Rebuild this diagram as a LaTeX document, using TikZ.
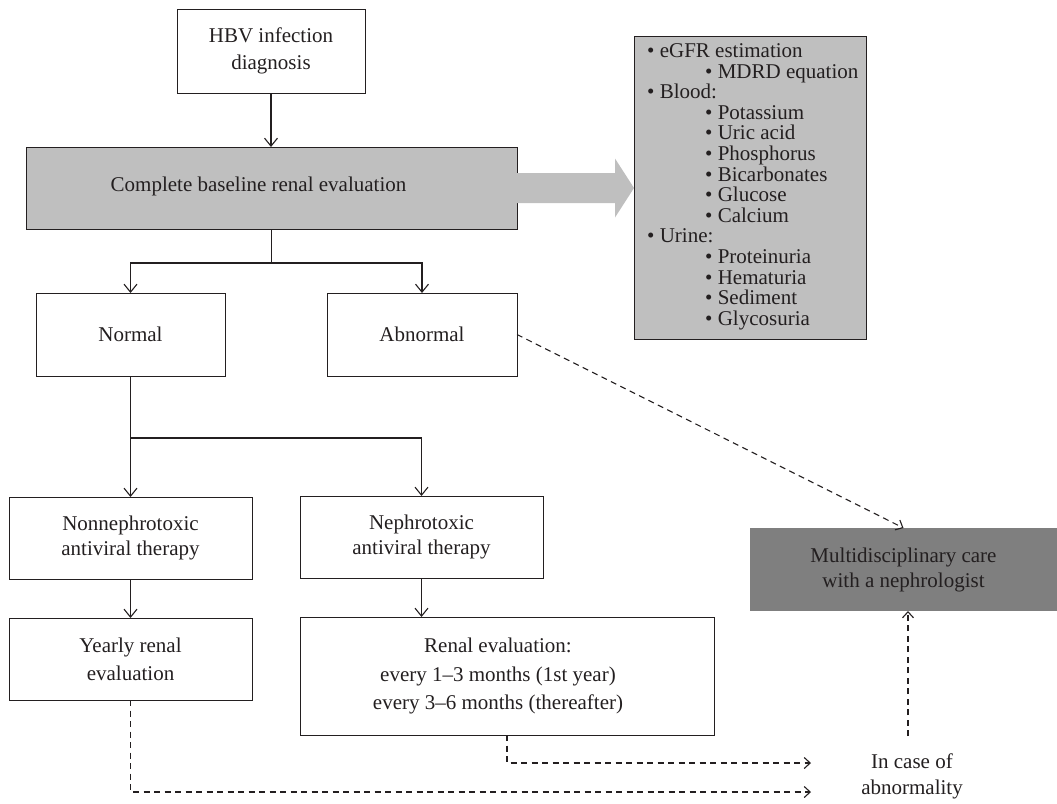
\documentclass[tikz,border=0pt]{standalone}
\usepackage{fontspec}
\setmainfont{Liberation Serif}
\usetikzlibrary{arrows.meta,calc}
\definecolor{ink}{HTML}{231F20}
\definecolor{boxgray}{HTML}{BFBFBF}
\definecolor{darkbox}{HTML}{7F7F7F}
\begin{document}
\begin{tikzpicture}[x=1pt,y=-1pt,
  every node/.style={font=\fontsize{21}{27}\selectfont, text=ink},
  box/.style={draw=ink, line width=1pt, inner sep=0pt, outer sep=0pt, align=center},
  conn/.style={draw=ink, line width=1.1pt},
  arr/.style={conn, -{Straight Barb[length=8pt,width=13pt]}},
  darr/.style={conn, dash pattern=on 6pt off 4.5pt, -{Straight Barb[length=6pt,width=11pt]}},
]
\useasboundingbox (0,0) rectangle (1057,803);

% top
\node[box, minimum width=188pt, minimum height=84pt] (hbv) at (271,51) {HBV infection\\diagnosis};
\node[box, fill=boxgray, minimum width=491pt, minimum height=82pt] (base) at (271.5,188) {};
\node (basetxt) at ($(base.center)+(-13,-2)$) {Complete baseline renal evaluation};

% list box
\node[box, fill=boxgray, minimum width=232pt, minimum height=303pt] (list) at (750,187.5) {};
\foreach \t/\l [count=\i from 0] in {eGFR estimation/0, MDRD equation/1, Blood:/0, Potassium/1, Uric acid/1, Phosphorus/1, Bicarbonates/1, Glucose/1, Calcium/1, Urine:/0, Proteinuria/1, Hematuria/1, Sediment/1, Glycosuria/1}
  \node[anchor=base west, inner sep=0pt] (li\i) at ({647+58*\l},{57.5+20.6*\i}) {\textbullet\ \t};

% big gray arrow
\fill[boxgray] ($(base.east)+(-1,-15)$) -- ($(list.west|-base.east)+(-19,-15)$)
  -- ($(list.west|-base.east)+(-19,-29.5)$) -- (list.west|-base.east)
  -- ($(list.west|-base.east)+(-19,29.5)$) -- ($(list.west|-base.east)+(-19,15)$)
  -- ($(base.east)+(-1,15)$) -- cycle;

% row 2
\node[box, minimum width=189pt, minimum height=83pt] (normal) at (130.5,334.5) {Normal};
\node[box, minimum width=190pt, minimum height=83pt] (abn) at (422,334.5) {Abnormal};

% row 3
\node[box, minimum width=243pt, minimum height=82pt, font=\fontsize{21}{25.5}\selectfont] (nonneph) at (130.5,538) {Nonnephrotoxic\\antiviral therapy};
\node[box, minimum width=243pt, minimum height=82pt, font=\fontsize{21}{25.5}\selectfont] (neph) at (421.5,537) {Nephrotoxic\\antiviral therapy};

% row 4
\node[box, minimum width=243pt, minimum height=82pt, font=\fontsize{21}{28}\selectfont] (yearly) at (130.5,659) {Yearly renal\\evaluation};
\node[box, minimum width=414pt, minimum height=118pt] (renal) at (507,676) {};
\node[align=center, inner sep=0pt, font=\fontsize{21}{28.5}\selectfont] (renaltxt) at (498,676) {Renal evaluation:\\every 1–3 months (1st year)\\every 3–6 months (thereafter)};

% multidisciplinary
\node[box, draw=none, fill=darkbox, minimum width=307pt, minimum height=83pt, font=\fontsize{21}{25}\selectfont] (multi) at (903.5,569.5) {Multidisciplinary care\\with a nephrologist};
\node[align=center, inner sep=0pt, font=\fontsize{21}{26}\selectfont] (case) at (912,776) {In case of\\abnormality};

% connectors
\draw[arr] (hbv.south) -- (hbv.south |- base.north);
\draw[conn] (base.south) -- ++(0,34) coordinate (j1);
\draw[arr] (j1) -| (normal.north);
\draw[arr] (j1) -| (abn.north);
\draw[conn] (normal.south) -- ++(0,62) coordinate (j2);
\draw[arr] (j2) -- (nonneph.north);
\draw[arr] (j2) -| (neph.north);
\draw[arr] (nonneph.south) -- (yearly.north);
\draw[arr] (neph.south) -- (neph.south |- renal.north);

\draw[darr] (abn.east) -- (multi.north);
\coordinate (e1) at (811,763);
\coordinate (e2) at (811,792);
\draw[darr] (renal.south) |- (e1);
\draw[darr] (yearly.south) |- (e2);
\coordinate (c1) at (908,736);
\draw[darr] (c1) -- (c1 |- multi.south);
\end{tikzpicture}
\end{document}
